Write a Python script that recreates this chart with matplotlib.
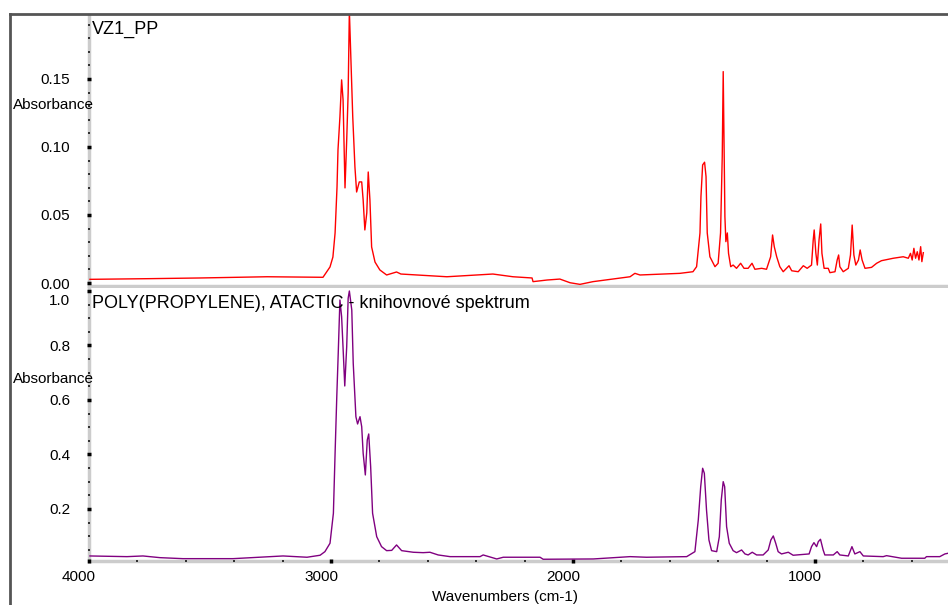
import matplotlib
matplotlib.use("Agg")
import matplotlib.pyplot as plt
from matplotlib.lines import Line2D
from matplotlib.ticker import MultipleLocator
import matplotlib.transforms as mtransforms

plt.rcParams['font.family'] = ['Liberation Sans', 'DejaVu Sans']

# vzorek VZ1_PP (cervene)
wn_vz = [3996, 3748, 3541, 3264, 3128, 3033, 3004, 2992, 2983, 2975, 2971, 2963,
         2956, 2950, 2942, 2935, 2929, 2924, 2919, 2910, 2901, 2894, 2883, 2873,
         2867, 2860, 2852, 2846, 2839, 2832, 2818, 2798, 2770, 2729, 2711, 2521,
         2331, 2248, 2169, 2165, 2107, 2054, 2012, 1971, 1917, 1764, 1744, 1723,
         1558, 1504, 1489, 1475, 1471, 1464, 1456, 1450, 1445, 1434, 1413, 1400,
         1390, 1383, 1379, 1375, 1372, 1368, 1362, 1357, 1348, 1338, 1324, 1307,
         1293, 1276, 1260, 1248, 1220, 1200, 1183, 1175, 1168, 1158, 1145, 1131,
         1107, 1096, 1069, 1048, 1032, 1014, 1007, 1003, 996, 990, 983, 976,
         971, 962, 945, 938, 917, 908, 902, 897, 883, 862, 853, 846,
         839, 831, 820, 813, 805, 793, 766, 745, 725, 676, 635, 614,
         605, 598, 591, 584, 577, 570, 563, 558, 552]
abs_vz = [0.0027, 0.0032, 0.0037, 0.0046, 0.0044, 0.0042, 0.0118, 0.0191, 0.0368, 0.0706, 0.0978, 0.1221,
          0.1493, 0.1346, 0.0699, 0.1051, 0.1397, 0.2000, 0.1713, 0.1221, 0.0853, 0.0669, 0.0743, 0.0743,
          0.0610, 0.0390, 0.0515, 0.0816, 0.0610, 0.0265, 0.0154, 0.0096, 0.0059, 0.0081, 0.0066, 0.0046,
          0.0066, 0.0046, 0.0037, 0.0010, 0.0022, 0.0029, 0.0002, -0.0010, 0.0010, 0.0046, 0.0071, 0.0059,
          0.0071, 0.0083, 0.0120, 0.0368, 0.0635, 0.0868, 0.0888, 0.0782, 0.0368, 0.0193, 0.0120, 0.0145,
          0.0368, 0.0929, 0.1554, 0.0929, 0.0488, 0.0304, 0.0368, 0.0218, 0.0120, 0.0132, 0.0108, 0.0145,
          0.0108, 0.0108, 0.0145, 0.0101, 0.0108, 0.0101, 0.0193, 0.0353, 0.0267, 0.0193, 0.0120, 0.0083,
          0.0127, 0.0090, 0.0083, 0.0127, 0.0108, 0.0132, 0.0316, 0.0390, 0.0218, 0.0132, 0.0316, 0.0434,
          0.0218, 0.0108, 0.0108, 0.0076, 0.0083, 0.0169, 0.0206, 0.0120, 0.0083, 0.0108, 0.0206, 0.0426,
          0.0206, 0.0132, 0.0169, 0.0243, 0.0169, 0.0108, 0.0115, 0.0145, 0.0164, 0.0182, 0.0193, 0.0182,
          0.0218, 0.0169, 0.0255, 0.0182, 0.0230, 0.0169, 0.0267, 0.0157, 0.0223]

# knihovnove spektrum (fialove)
wn_lib = [3996, 3843, 3777, 3707, 3612, 3405, 3198, 3099, 3045, 3025, 3004, 2990,
          2983, 2976, 2970, 2963, 2956, 2949, 2943, 2935, 2929, 2924, 2914, 2908,
          2897, 2890, 2880, 2873, 2867, 2858, 2850, 2844, 2836, 2828, 2811, 2791,
          2770, 2749, 2729, 2708, 2660, 2619, 2591, 2557, 2508, 2384, 2371, 2315,
          2288, 2136, 2123, 1916, 1764, 1696, 1530, 1496, 1482, 1472, 1464, 1457,
          1448, 1438, 1427, 1406, 1395, 1387, 1379, 1373, 1365, 1354, 1338, 1324,
          1303, 1289, 1276, 1259, 1241, 1214, 1193, 1182, 1172, 1162, 1152, 1138,
          1110, 1090, 1024, 1014, 1004, 993, 986, 977, 966, 959, 924, 908,
          897, 862, 847, 835, 814, 800, 718, 704, 642, 546, 539, 484,
          463, 450]
abs_lib = [0.0275, 0.0250, 0.0275, 0.0213, 0.0176, 0.0176, 0.0275, 0.0228, 0.0301, 0.0433, 0.0741, 0.1842,
           0.4044, 0.6121, 0.7714, 0.9670, 0.9057, 0.7714, 0.6514, 0.7956, 0.9732, 1.0000, 0.9303, 0.7347,
           0.5387, 0.5119, 0.5387, 0.5020, 0.4044, 0.3248, 0.4532, 0.4752, 0.3552, 0.1842, 0.0983, 0.0617,
           0.0470, 0.0480, 0.0679, 0.0470, 0.0411, 0.0396, 0.0411, 0.0312, 0.0250, 0.0250, 0.0312, 0.0165,
           0.0228, 0.0228, 0.0154, 0.0165, 0.0250, 0.0228, 0.0250, 0.0433, 0.1596, 0.2818, 0.3494, 0.3310,
           0.1963, 0.0862, 0.0470, 0.0433, 0.0983, 0.2330, 0.3002, 0.2818, 0.1350, 0.0741, 0.0470, 0.0396,
           0.0495, 0.0349, 0.0312, 0.0411, 0.0312, 0.0312, 0.0495, 0.0862, 0.1009, 0.0741, 0.0433, 0.0349,
           0.0411, 0.0301, 0.0349, 0.0617, 0.0763, 0.0617, 0.0800, 0.0888, 0.0495, 0.0312, 0.0312, 0.0433,
           0.0312, 0.0275, 0.0617, 0.0349, 0.0433, 0.0275, 0.0250, 0.0286, 0.0191, 0.0191, 0.0250, 0.0250,
           0.0349, 0.0374]

W, H = 948, 605
fig = plt.figure(figsize=(W / 100, H / 100), dpi=100)

def px_box(x0, y0, x1, y1):
    return [x0 / W, 1 - y1 / H, (x1 - x0) / W, (y1 - y0) / H]

ax1 = fig.add_axes(px_box(89, 15, 948, 286))
ax2 = fig.add_axes(px_box(89, 288, 948, 561))

ax1.plot(wn_vz, abs_vz, color='#ff0000', lw=1)
ax2.plot(wn_lib, abs_lib, color='#800080', lw=1)

for ax in (ax1, ax2):
    ax.set_xlim(4000, 450)
    for s in ('top', 'right'):
        ax.spines[s].set_visible(False)
    for s in ('left', 'bottom'):
        ax.spines[s].set_color('#cccccc')
        ax.spines[s].set_linewidth(2.5)
        ax.spines[s].set_zorder(0.5)
    ax.xaxis.set_major_locator(MultipleLocator(1000))
    ax.xaxis.set_minor_locator(MultipleLocator(200))
    ax.tick_params(which='major', direction='inout', length=3, width=2.5, color='black',
                   labelsize=11, pad=12)
    ax.tick_params(which='minor', direction='inout', length=1.5, width=1.3, color='#222222')

ax1.set_ylim(-0.0022, 0.197)
ax1.set_yticks([0.00, 0.05, 0.10, 0.15])
ax1.set_yticklabels(['0.00', '0.05', '0.10', '0.15'])
ax1.yaxis.set_minor_locator(MultipleLocator(0.01))
ax1.tick_params(axis='x', which='both', labelbottom=False, length=0)

ax2.set_ylim(0.009, 1.011)
ax2.set_yticks([0.2, 0.4, 0.6, 0.8, 1.0])
ax2.set_yticklabels(['0.2', '0.4', '0.6', '0.8', '1.0'])
ax2.yaxis.set_minor_locator(MultipleLocator(0.05))
ax2.set_xticks([4000, 3000, 2000, 1000])
ax2.set_xticklabels(['4000', '3000', '2000', '1000'])
ax2.tick_params(axis='x', which='major', pad=5)

shift_x = mtransforms.ScaledTranslation(-10 / 100, 0, fig.dpi_scale_trans)
for lab in ax2.get_xticklabels():
    lab.set_transform(lab.get_transform() + shift_x)
shift_y = mtransforms.ScaledTranslation(0, -9 / 100, fig.dpi_scale_trans)
lab_top = ax2.get_yticklabels()[-1]
lab_top.set_transform(lab_top.get_transform() + shift_y)

# popisky
fig.text(92 / W, 1 - 29 / H, 'VZ1_PP', fontsize=13, ha='left', va='center')
fig.text(92 / W, 1 - 303 / H, 'POLY(PROPYLENE), ATACTIC - knihovnové spektrum',
         fontsize=13, ha='left', va='center')
fig.text(53 / W, 1 - 105 / H, 'Absorbance', fontsize=11, ha='center', va='center')
fig.text(53 / W, 1 - 379 / H, 'Absorbance', fontsize=11, ha='center', va='center')
fig.text(505 / W, 1 - 597 / H, 'Wavenumbers (cm-1)', fontsize=11, ha='center', va='center')

# ramecek okna
fig.add_artist(Line2D([10 / W, 10 / W], [0, 1 - 14 / H], transform=fig.transFigure,
                      color='#555555', lw=2))
fig.add_artist(Line2D([10 / W, 1], [1 - 14 / H, 1 - 14 / H], transform=fig.transFigure,
                      color='#555555', lw=2))

fig.savefig('out.png', dpi=100)
